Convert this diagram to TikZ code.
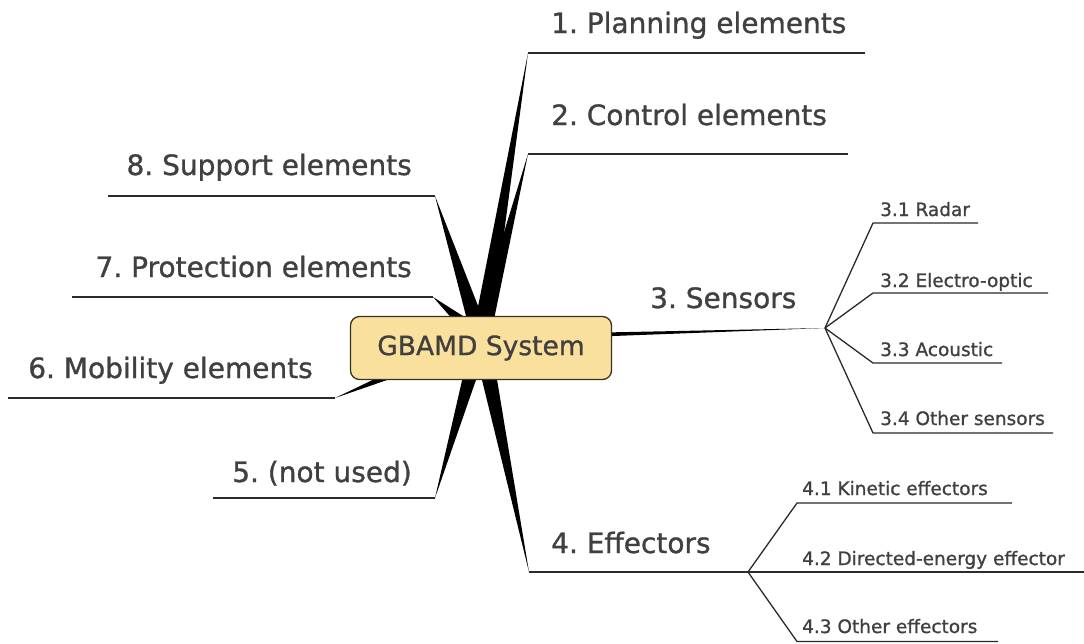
\documentclass[tikz,border=0pt]{standalone}
\usepackage{fontspec}
\setmainfont{DejaVu Sans}[UprightFeatures={FakeBold=1.0}]
\usetikzlibrary{calc}
\definecolor{txt}{HTML}{404040}
\definecolor{ln}{HTML}{2B2B2B}
\definecolor{corefill}{HTML}{FAE09D}
\definecolor{coredraw}{HTML}{3A3225}
\tikzset{
  mainlabel/.style={inner sep=0pt, text=txt, font=\frenchspacing\fontsize{28}{30}\selectfont},
  sublabel/.style={inner sep=0pt, text=txt, font=\frenchspacing\fontsize{18.5}{21}\selectfont},
  branch/.style={draw=ln, line width=1.5pt, line join=round},
  spokefill/.style={fill=black},
  core/.style={draw=coredraw, line width=1.3pt, fill=corefill, rounded corners=9pt,
    minimum width=261pt, minimum height=63pt, inner sep=0pt, text=txt,
    font=\fontsize{26.5}{30}\selectfont}
}
\begin{document}
\begin{tikzpicture}[x=1pt,y=-1pt]
\useasboundingbox (0,0) rectangle (1084,643);
\fill[white] (0,0) rectangle (1084,643);

% hub and the elbow points of the main branches
\coordinate (o)  at (481,338);
\coordinate (c1) at (528,53);
\coordinate (c2) at (528,154);
\coordinate (c3) at (825,328);
\coordinate (c4) at (529,572);
\coordinate (c5) at (435,498);
\coordinate (c6) at (335,398);
\coordinate (c7) at (433,297);
\coordinate (c8) at (435,196);

% underline ends of the main branches
\coordinate (e1) at (865,53);
\coordinate (e2) at (848,154);
\coordinate (e4) at (748,572);
\coordinate (e5) at (213,498);
\coordinate (e6) at (8,398);
\coordinate (e7) at (72,297);
\coordinate (e8) at (108,196);

% tapered spokes from the hub
\foreach \c in {c1,c2,c4,c5,c6,c7,c8}
  \fill[spokefill] ($(o)!9pt!90:(\c)$) -- (\c) -- ($(o)!9pt!-90:(\c)$) -- cycle;
\fill[spokefill] ($(o)!3pt!90:(c3)$) -- (c3) -- ($(o)!3pt!-90:(c3)$) -- cycle;

% underlines of the main branches
\draw[branch] (c1) -- (e1);
\draw[branch] (c2) -- (e2);
\draw[branch] (c4) -- (e4);
\draw[branch] (c5) -- (e5);
\draw[branch] (c6) -- (e6);
\draw[branch] (c7) -- (e7);
\draw[branch] (c8) -- (e8);

% sensor sub-branches
\coordinate (s1) at (873,223); \coordinate (s1e) at (978,223);
\coordinate (s2) at (873,293); \coordinate (s2e) at (1048,293);
\coordinate (s3) at (873,363); \coordinate (s3e) at (1002,363);
\coordinate (s4) at (873,433); \coordinate (s4e) at (1053,433);
\foreach \s in {s1,s2,s3,s4}
  \draw[branch, line width=1.3pt] (c3) -- (\s) -- (\s e);

% effector sub-branches
\coordinate (f1) at (797,503); \coordinate (f1e) at (1012,503);
\coordinate (f2) at (797,572); \coordinate (f2e) at (1084,572);
\coordinate (f3) at (797,641.5); \coordinate (f3e) at (998,641.5);
\foreach \f in {f1,f2,f3}
  \draw[branch, line width=1.3pt] (e4) -- (\f) -- (\f e);

% central topic
\node[core] (hub) at (481,348) {GBAMD System};

% main branch labels
\node[mainlabel, anchor=base west] (t1) at (551,33) {1. Planning elements};
\node[mainlabel, anchor=base west] (t2) at (551,125) {2. Control elements};
\node[mainlabel, anchor=base west] (t3) at (650,308) {3. Sensors};
\node[mainlabel, anchor=base west] (t4) at (551,553) {4. Effectors};
\node[mainlabel, anchor=base east] (t5) at (412,482) {5. (not used)};
\node[mainlabel, anchor=base east] (t6) at (313,378) {6. Mobility elements};
\node[mainlabel, anchor=base east] (t7) at (412,277) {7. Protection elements};
\node[mainlabel, anchor=base east] (t8) at (412,175) {8. Support elements};

% sub-branch labels
\node[sublabel, anchor=base west] (u1) at (880,216) {3.1 Radar};
\node[sublabel, anchor=base west] (u2) at (880,287) {3.2 Electro-optic};
\node[sublabel, anchor=base west] (u3) at (880,356) {3.3 Acoustic};
\node[sublabel, anchor=base west] (u4) at (880,425) {3.4 Other sensors};
\node[sublabel, anchor=base west] (v1) at (802,495) {4.1 Kinetic effectors};
\node[sublabel, anchor=base west] (v2) at (802,565) {4.2 Directed-energy effector};
\node[sublabel, anchor=base west] (v3) at (802,633) {4.3 Other effectors};
\end{tikzpicture}
\end{document}
